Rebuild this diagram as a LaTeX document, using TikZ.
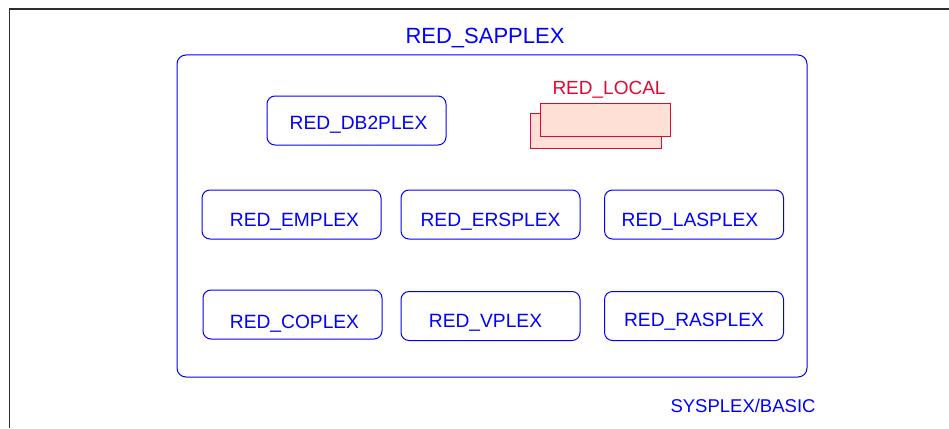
\documentclass[tikz,border=0pt]{standalone}
\usepackage{fontspec}
\setmainfont{Liberation Sans}
\definecolor{pblue}{RGB}{0,0,255}
\definecolor{pred}{RGB}{220,10,50}
\definecolor{pfill}{RGB}{255,224,214}
\definecolor{frame}{RGB}{45,45,45}
\begin{document}
\begin{tikzpicture}[x=1pt,y=-1pt,
  box/.style={draw=pblue,line width=1pt,rounded corners=8pt,minimum width=179pt,minimum height=49pt,inner sep=0pt},
  txt/.style={text=pblue,font=\fontsize{19.2}{22}\selectfont,inner sep=0pt},
  lrect/.style={draw=pred,fill=pfill,line width=1pt,inner sep=0pt}]
\useasboundingbox (0,0) rectangle (949,428);
% outer frame
\coordinate (tl) at (9.5,9);
\coordinate (tr) at (949,9);
\coordinate (bl) at (9.5,428);
\draw[frame,line width=1.5pt] (tr) -- (tl) -- (bl);
% main container
\node[draw=pblue,line width=1pt,rounded corners=9pt,minimum width=630pt,minimum height=322pt,inner sep=0pt] (main) at (492,216) {};
\node[text=pblue,font=\fontsize{22}{26}\selectfont,inner sep=0pt] (title) at (485,38) {RED\_SAPPLEX};
% boxes
\node[box] (db2) at (356.5,120.5) {};
\node[txt] at ([shift={(2,4)}]db2.center) {RED\_DB2PLEX};
\node[box] (em) at (291.5,214.5) {};
\node[txt] at ([shift={(3,7)}]em.center) {RED\_EMPLEX};
\node[box] (ers) at (490.5,214.5) {};
\node[txt] at ([shift={(0,7)}]ers.center) {RED\_ERSPLEX};
\node[box] (las) at (694,214.5) {};
\node[txt] at ([shift={(-4,7)}]las.center) {RED\_LASPLEX};
\node[box] (co) at (292.5,314.5) {};
\node[txt] at ([shift={(2,9)}]co.center) {RED\_COPLEX};
\node[box] (vp) at (490.5,316) {};
\node[txt] at ([shift={(-5,7)}]vp.center) {RED\_VPLEX};
\node[box] (ras) at (694,316) {};
\node[txt] at ([shift={(0,6)}]ras.center) {RED\_RASPLEX};
% RED_LOCAL
\node[lrect,minimum width=131pt,minimum height=35pt] (lb) at (595.5,130.5) {};
\node[lrect,minimum width=130pt,minimum height=33pt] (lf) at (605,119.5) {};
\node[text=pred,font=\fontsize{19}{22}\selectfont,inner sep=0pt] (lt) at (609,90) {RED\_LOCAL};
% footer
\node[text=pblue,font=\fontsize{18.5}{22}\selectfont,inner sep=0pt] (sys) at (743,406) {SYSPLEX/BASIC};
\end{tikzpicture}
\end{document}
